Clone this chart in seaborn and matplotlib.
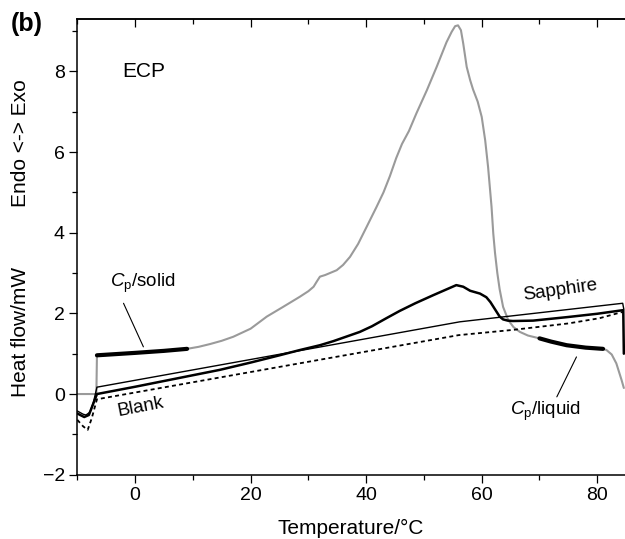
import matplotlib
matplotlib.use('Agg')
import matplotlib.pyplot as plt
import seaborn as sns

# ECP sample curve (grey)
ecp_x = [-10, -6.7, -6.6, 0, 5, 9, 11, 13, 15, 17, 20, 22.8, 25.5, 28.5, 30, 30.9, 31.5, 32, 32.9, 34.9,
         36, 37.2, 38.6, 40.1, 41.8, 43, 44.1, 45.2, 46.2, 47.4, 48.7, 50.5, 52.2, 53.9, 54.8, 55.4,
         55.9, 56.4, 56.8, 57.4, 58, 58.5, 59.3, 60, 60.6, 61.1, 61.7, 62.0, 62.3, 62.7, 63.1, 63.7,
         64.6, 65.5, 66.6, 68, 70, 74.7, 78, 81, 81.6, 82.5, 83.3, 84.2, 84.6]
ecp_y = [0, 0, 0.95, 1.02, 1.07, 1.12, 1.17, 1.24, 1.32, 1.42, 1.62, 1.92, 2.15, 2.41, 2.55, 2.66, 2.80, 2.91,
         2.95, 3.07, 3.20, 3.40, 3.72, 4.15, 4.64, 5.0, 5.40, 5.85, 6.20, 6.52, 6.96, 7.53, 8.11, 8.72,
         8.98, 9.12, 9.14, 9.02, 8.69, 8.11, 7.78, 7.55, 7.25, 6.87, 6.29, 5.63, 4.64, 3.98, 3.50,
         3.0, 2.6, 2.16, 1.83, 1.66, 1.54, 1.45, 1.38, 1.21, 1.15, 1.12, 1.09, 0.98, 0.76, 0.35, 0.15]

# sample run (thick black)
run_x = [-10, -9.5, -8.8, -8.0, -7.4, -6.6, 0, 7, 14.7, 20, 25, 28.5, 32, 34.3, 36.5, 38.9, 41, 43.5,
         45.8, 48.5, 51.6, 54, 55.6, 56.8, 58, 59.7, 60.8, 61.5, 62.3, 63.1, 63.7, 64.5, 65.4, 68.9,
         75, 80, 84.5, 84.6]
run_y = [-0.48, -0.52, -0.57, -0.52, -0.3, 0, 0.18, 0.38, 0.6, 0.78, 0.96, 1.09, 1.21, 1.31, 1.42, 1.54,
         1.68, 1.88, 2.06, 2.25, 2.45, 2.6, 2.70, 2.66, 2.56, 2.49, 2.40, 2.28, 2.10, 1.92, 1.85, 1.82,
         1.81, 1.82, 1.91, 1.99, 2.08, 1.0]

# sapphire (thin black)
sapphire_x = [-10, -9, -8.5, -7.8, -7.2, -6.6, 56.2, 84.4, 84.6]
sapphire_y = [-0.42, -0.5, -0.52, -0.45, -0.2, 0.17, 1.79, 2.25, 2.1]

# blank (dotted)
blank_x = [-10, -9, -8.2, -7.5, -6.6, 56, 65.4, 75, 80.4, 84.5]
blank_y = [-0.64, -0.8, -0.89, -0.6, -0.13, 1.46, 1.59, 1.75, 1.88, 2.04]

# Cp evaluation ranges
solid_x = [-6.6, 0, 5, 9]
solid_y = [0.96, 1.02, 1.07, 1.12]
liquid_x = [70, 72, 74.7, 75.8, 78, 81]
liquid_y = [1.38, 1.30, 1.21, 1.19, 1.15, 1.12]

sns.set_style('ticks', {'axes.edgecolor': 'black', 'xtick.color': 'black', 'ytick.color': 'black',
                        'text.color': 'black'})
plt.rcParams['font.family'] = ['Liberation Sans', 'DejaVu Sans']
plt.rcParams['mathtext.fontset'] = 'custom'
plt.rcParams['mathtext.rm'] = 'Liberation Sans'
plt.rcParams['mathtext.it'] = 'Liberation Sans:italic'

fig = plt.figure(figsize=(6.25, 5.39), dpi=100)
ax = fig.add_axes([77.3 / 625, 1 - 474.7 / 539, (625 - 77.3) / 625, (474.7 - 19.3) / 539])

sns.lineplot(x=ecp_x, y=ecp_y, sort=False, estimator=None, color='#9a9a9a', lw=1.5, ax=ax)
sns.lineplot(x=blank_x, y=blank_y, sort=False, estimator=None, color='black', lw=1.3,
             linestyle=(0, (2.2, 1.8)), ax=ax)
sns.lineplot(x=sapphire_x, y=sapphire_y, sort=False, estimator=None, color='black', lw=1.0, ax=ax)
sns.lineplot(x=run_x, y=run_y, sort=False, estimator=None, color='black', lw=1.8, ax=ax)
sns.lineplot(x=solid_x, y=solid_y, sort=False, estimator=None, color='black', lw=3.0, ax=ax)
sns.lineplot(x=liquid_x, y=liquid_y, sort=False, estimator=None, color='black', lw=3.0, ax=ax)

ax.set_xlim(-10, 84.8)
ax.set_ylim(-2, 9.29)
ax.set_xticks([0, 20, 40, 60, 80])
ax.set_xticks([-10, 10, 30, 50, 70], minor=True)
ax.set_yticks([-2, 0, 2, 4, 6, 8])
ax.set_yticks([-1, 1, 3, 5, 7, 9], minor=True)
ax.set_yticklabels(['\u22122', '0', '2', '4', '6', '8'])
ax.tick_params(which='major', length=6, width=0.9, labelsize=14, pad=3, colors='black')
ax.tick_params(which='minor', length=3.5, width=0.9, colors='black')
ax.spines['right'].set_visible(False)
for s in ['left', 'bottom', 'top']:
    ax.spines[s].set_linewidth(1.1)
    ax.spines[s].set_color('black')

top = ax.secondary_xaxis('top')
top.set_xticks([0, 20, 40, 60, 80])
top.set_xticks([-10, 10, 30, 50, 70], minor=True)
top.tick_params(which='major', direction='in', length=6, width=0.9, labeltop=False, colors='black')
top.tick_params(which='minor', direction='in', length=3.5, width=0.9, colors='black')
top.spines['top'].set_linewidth(1.1)
top.spines['top'].set_color('black')

ax.set_xlabel('')
ax.set_ylabel('')
fig.text((77.3 + 625) / 2 / 625, 1 - 528 / 539, 'Temperature/\u00b0C', ha='center', va='center', fontsize=15)
fig.text(21 / 625, 1 - 332 / 539, 'Heat flow/mW', rotation=90, ha='center', va='center', fontsize=15)
fig.text(21 / 625, 1 - 143 / 539, 'Endo <-> Exo', rotation=90, ha='center', va='center', fontsize=15)
fig.text(27 / 625, 1 - 24 / 539, '(b)', ha='center', va='center', fontsize=18, fontweight='bold')

ax.text(-2.2, 8.0, 'ECP', ha='left', va='center', fontsize=15)
ax.text(-4.4, 2.75, r'$C_\mathrm{p}$/solid', ha='left', va='center', fontsize=13.5)
ax.text(0.9, -0.32, 'Blank', ha='center', va='center', fontsize=13.5, rotation=11)
ax.text(73.5, 2.58, 'Sapphire', ha='center', va='center', fontsize=13.5, rotation=8)
ax.text(64.9, -0.42, r'$C_\mathrm{p}$/liquid', ha='left', va='center', fontsize=13.5)
ax.plot([-2.0, 1.44], [2.25, 1.17], color='black', lw=0.8)
ax.plot([76.4, 73.0], [0.92, -0.07], color='black', lw=0.8)

fig.savefig('out.png', dpi=100)
